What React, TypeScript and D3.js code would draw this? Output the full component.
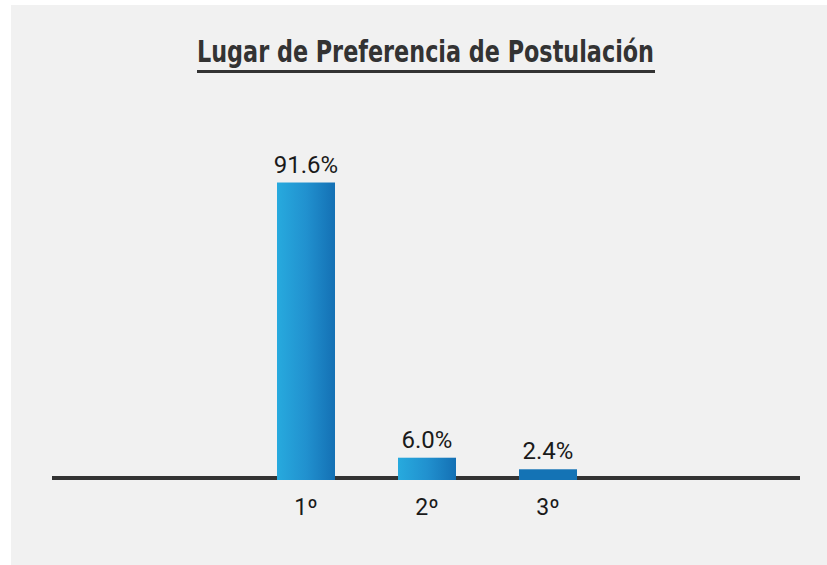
import { useMemo } from "react";
import * as d3 from "d3";

const title = "Lugar de Preferencia de Postulación";
const categories = ["1º", "2º", "3º"];
const values = [91.6, 6.0, 2.4];
const barFills = ["url(#barGrad)", "url(#barGrad)", "#1473b5"];

const width = 827;
const height = 565;
const baselineY = 477;

export default function App() {
  const xScale = useMemo(
    () => d3.scalePoint<string>().domain(categories).range([306, 548]),
    []
  );

  const yScale = useMemo(
    () => d3.scaleLinear().domain([0, 100]).range([baselineY, baselineY - 321.5]),
    []
  );

  const barWidth = 58;
  const fmt = d3.format(".1f");

  return (
    <svg
      width={width}
      height={height}
      style={{ position: "absolute", left: 0, top: 0, display: "block" }}
    >
      <defs>
        <linearGradient id="barGrad" x1="0" x2="1" y1="0" y2="0">
          <stop offset="0%" stopColor="#27aade" />
          <stop offset="50%" stopColor="#2191cf" />
          <stop offset="100%" stopColor="#1470b4" />
        </linearGradient>
      </defs>
      <rect x={0} y={0} width={width} height={height} fill="#ffffff" />
      <rect x={11} y={5} width={width - 11} height={height - 5} fill="#f1f1f1" />

      {/* title */}
      <text
        x={425.5}
        y={62}
        textAnchor="middle"
        fontFamily="'Liberation Sans Narrow', 'DejaVu Sans Condensed', sans-serif"
        fontWeight="bold"
        fontSize={31}
        fill="#333333"
        textLength={457}
        lengthAdjust="spacingAndGlyphs"
      >
        {title}
      </text>
      <rect x={197} y={70} width={458} height={3} fill="#333333" />

      {/* baseline */}
      <rect x={52} y={476} width={748} height={4} fill="#333333" />

      {/* bars */}
      {values.map((v, i) => {
        const cx = xScale(categories[i]) ?? 0;
        const top = yScale(v);
        return (
          <g key={categories[i]}>
            <rect
              x={cx - barWidth / 2}
              y={top}
              width={barWidth}
              height={480 - top}
              fill={barFills[i]}
            />
            <text
              x={cx}
              y={top - 10}
              textAnchor="middle"
              fontFamily="Roboto, sans-serif"
              fontSize={24}
              fill="#1a1a1a"
            >
              {fmt(v)}%
            </text>
            <text
              x={cx}
              y={515}
              textAnchor="middle"
              fontFamily="Roboto, sans-serif"
              fontSize={23}
              fill="#1a1a1a"
            >
              {categories[i]}
            </text>
          </g>
        );
      })}
    </svg>
  );
}
